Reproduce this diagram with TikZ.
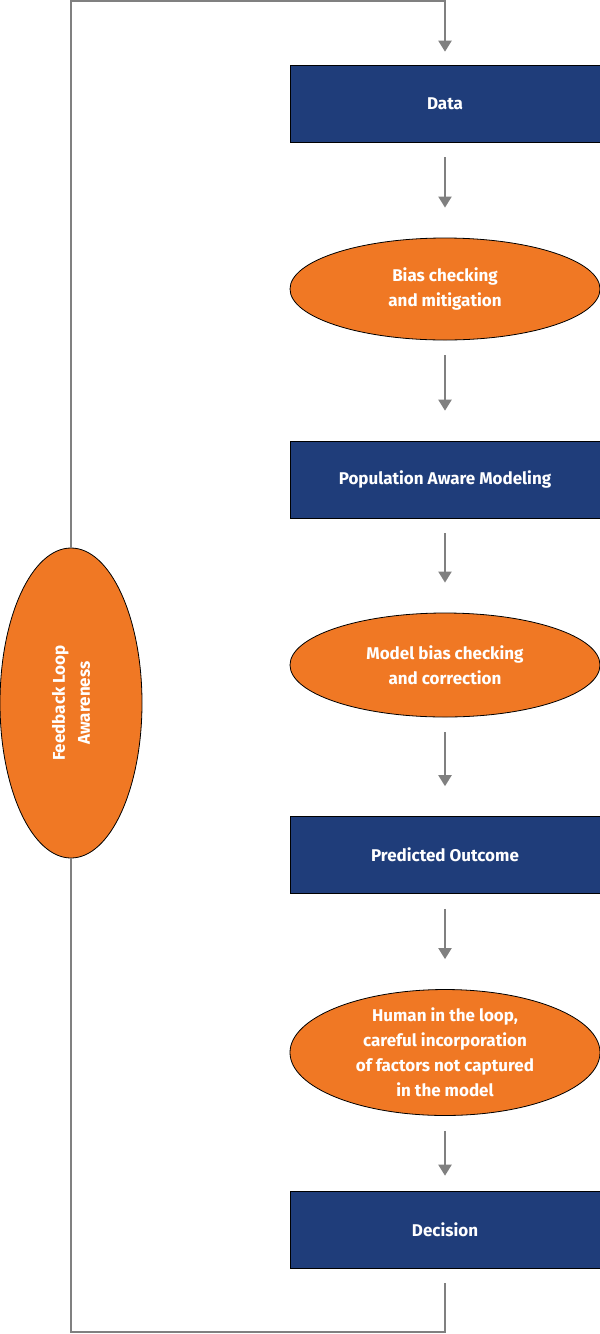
\documentclass[tikz,border=0pt]{standalone}
\usepackage{fontspec}
\setmainfont{Fira Sans}
\usetikzlibrary{shapes.geometric,arrows.meta}
\definecolor{nblue}{RGB}{31,61,122}
\definecolor{norange}{RGB}{240,120,36}
\definecolor{lgray}{RGB}{128,128,128}
\begin{document}
\begin{tikzpicture}[x=1pt,y=-1pt,
  txt/.style={text=white,font=\bfseries\fontsize{17}{25}\selectfont,align=center},
  box/.style={txt,draw=black,line width=0.6pt,fill=nblue,minimum width=310pt,minimum height=77pt},
  ell/.style={txt,ellipse,draw=black,line width=0.8pt,fill=norange,inner sep=0pt},
  conn/.style={draw=lgray,line width=2pt},
  arr/.style={conn,-{Triangle[width=13pt,length=11pt]},shorten <=15pt,shorten >=30pt}]
\useasboundingbox (0,0) rectangle (600,1334);
\node[box] (data) at (445,103.5) {Data};
\node[ell,minimum width=310pt,minimum height=102pt] (e1) at (445,289) {Bias checking\\and mitigation};
\node[box] (pop) at (445,479.5) {Population Aware Modeling};
\node[ell,minimum width=310pt,minimum height=104pt] (e2) at (445,665) {Model bias checking\\and correction};
\node[box] (pred) at (445,855) {Predicted Outcome};
\node[ell,minimum width=310pt,minimum height=121pt] (e3) at (445,1052.5) {Human in the loop,\\careful incorporation\\of factors not captured\\in the model};
\node[box] (dec) at (445,1229.5) {Decision};
\node[ell,minimum width=142pt,minimum height=310pt] (fb) at (71,703) {};
\node[txt,rotate=90] (fbt) at (71,703) {Feedback Loop\\Awareness};
\coordinate (tl) at (71,1);
\coordinate (tr) at (445,1);
\coordinate (bl) at (71,1332);
\coordinate (br) at (445,1332);
\draw[arr] (data) -- (e1);
\draw[arr] (e1) -- (pop);
\draw[arr] (pop) -- (e2);
\draw[arr] (e2) -- (pred);
\draw[arr] (pred) -- (e3);
\draw[arr,shorten >=15pt] (e3) -- (dec);
\draw[conn,shorten <=15pt] (dec.south) -- (br) -- (bl) -- (fb.south);
\draw[conn,-{Triangle[width=13pt,length=11pt]},shorten >=13pt] (fb.north) -- (tl) -- (tr) -- (data.north);
\end{tikzpicture}
\end{document}
